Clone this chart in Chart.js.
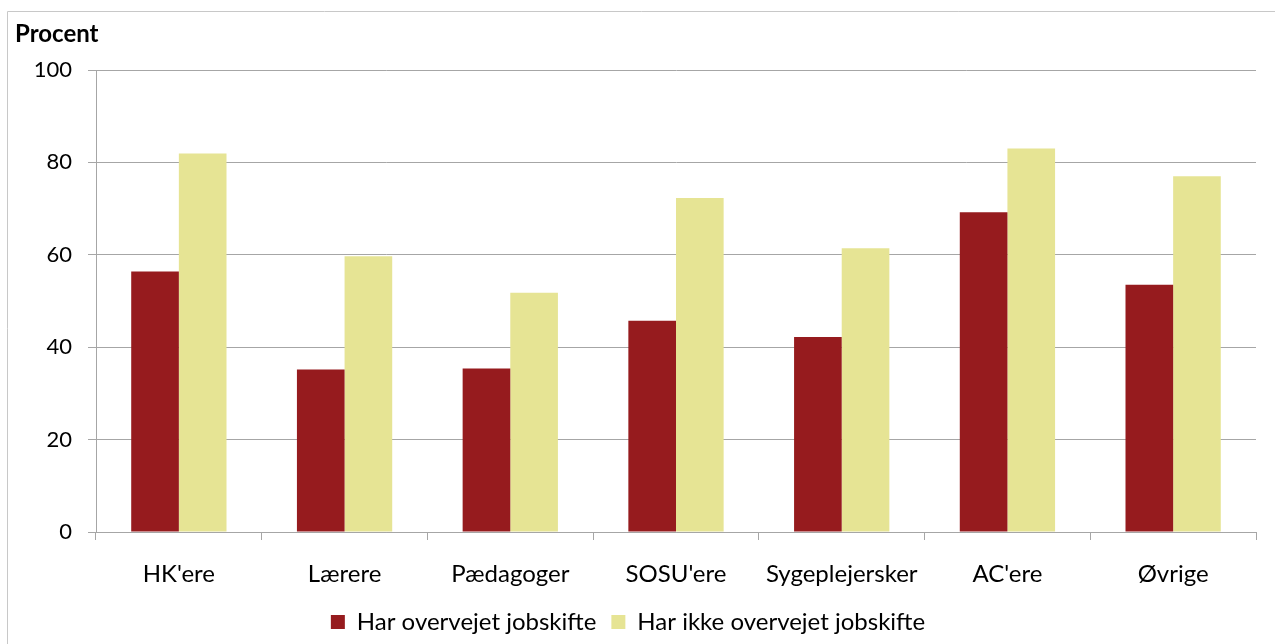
<!DOCTYPE html>
<html>
<head>
<meta charset="utf-8">
<script src="https://cdn.jsdelivr.net/npm/chart.js@4"></script>
<style>
  html, body { margin: 0; padding: 0; background: #fff; }
  #wrap { width: 1275px; height: 644px; position: relative; }
</style>
</head>
<body>
<div id="wrap"><canvas id="chart" width="1275" height="644"></canvas></div>
<script>
const categories = ["HK'ere", 'Lærere', 'Pædagoger', "SOSU'ere", 'Sygeplejersker', "AC'ere", 'Øvrige'];
const overvejet = [56.4, 35.2, 35.4, 45.7, 42.2, 69.2, 53.5];
const ikkeOvervejet = [81.9, 59.7, 51.8, 72.3, 61.4, 83.0, 77.0];
const seriesNames = ['Har overvejet jobskifte', 'Har ikke overvejet jobskifte'];
const yTicks = [0, 20, 40, 60, 80, 100];

const FONT = 'Lato, "Open Sans", sans-serif';

// frame + "Procent" label
const decor = {
    id: 'decor',
    beforeDraw(chart) {
        const ctx = chart.ctx;
        ctx.save();
        ctx.strokeStyle = '#c8c8c8';
        ctx.lineWidth = 1;
        ctx.beginPath();
        ctx.moveTo(7.5, 650);
        ctx.lineTo(7.5, 11.5);
        ctx.lineTo(1280, 11.5);
        ctx.stroke();
        ctx.restore();
    },
    afterDraw(chart) {
        const ctx = chart.ctx;
        ctx.save();
        ctx.fillStyle = '#000';
        ctx.font = 'bold 24px ' + FONT;
        ctx.textBaseline = 'middle';
        ctx.fillText('Procent', 15, 34);
        ctx.restore();
    }
};

new Chart(document.getElementById('chart').getContext('2d'), {
    type: 'bar',
    data: {
        labels: categories,
        datasets: [{
            label: seriesNames[0],
            data: overvejet,
            backgroundColor: '#961b1e',
            categoryPercentage: 0.575,
            barPercentage: 1
        }, {
            label: seriesNames[1],
            data: ikkeOvervejet,
            backgroundColor: '#e6e494',
            categoryPercentage: 0.575,
            barPercentage: 1
        }]
    },
    options: {
        responsive: false,
        animation: false,
        layout: { padding: { top: 70, right: 19, bottom: 0, left: 0 } },
        plugins: {
            legend: {
                position: 'bottom',
                labels: {
                    color: '#000',
                    font: { family: FONT, size: 24 },
                    boxWidth: 14,
                    boxHeight: 14,
                    padding: 15
                }
            },
            tooltip: { enabled: false }
        },
        scales: {
            x: {
                grid: { drawOnChartArea: false, drawTicks: true, tickLength: 8, color: '#a6a6a6' },
                border: { color: '#a6a6a6' },
                ticks: { color: '#000', font: { family: FONT, size: 24 }, padding: 20, maxRotation: 0 },
                afterFit(scale) { scale.height = 63; }
            },
            y: {
                min: 0,
                max: 100,
                afterBuildTicks(scale) { scale.ticks = yTicks.map(v => ({ value: v })); },
                grid: { color: '#a6a6a6', tickLength: 8 },
                border: { color: '#a6a6a6' },
                ticks: { color: '#000', font: { family: FONT, size: 22 }, padding: 16 },
                afterFit(scale) { scale.width = 96; }
            }
        }
    },
    plugins: [decor]
});
</script>
</body>
</html>
